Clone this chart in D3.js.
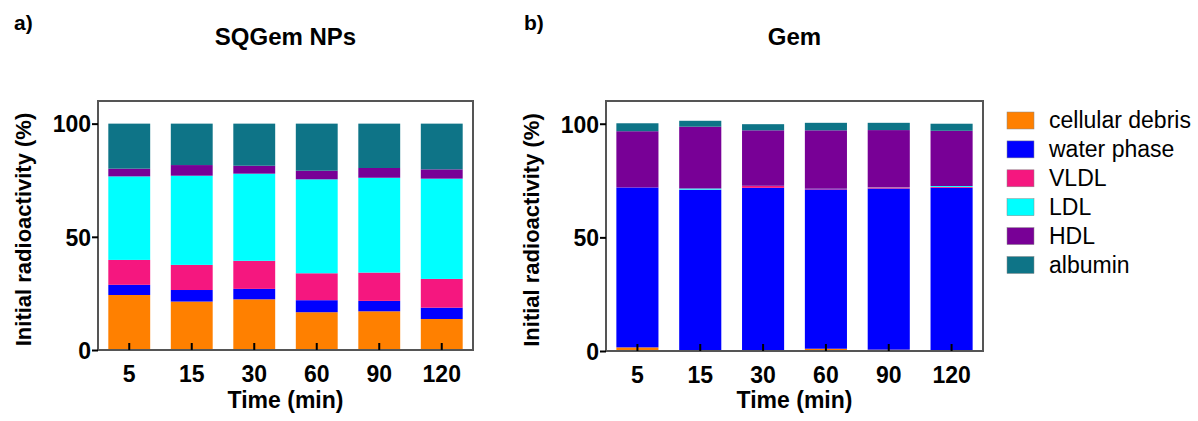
<!DOCTYPE html>
<html>
<head>
<meta charset="utf-8">
<script src="https://cdn.jsdelivr.net/npm/d3@7"></script>
<style>
  body { margin: 0; background: #fff; }
  svg text { font-family: "Liberation Sans", Arial, sans-serif; }
  .axis text { font-size: 23px; font-weight: bold; fill: #000; }
  .axis path { display: none; }
  .legend text { font-size: 23px; }
</style>
</head>
<body>
<div id="chart"></div>
<script>
var times = ["5", "15", "30", "60", "90", "120"];
var fractions = ["cellular debris", "water phase", "VLDL", "LDL", "HDL", "albumin"];
var fractionColors = ["#ff8000", "#0000ff", "#f5177f", "#00ffff", "#780096", "#0e7487"];

// % of initial radioactivity, one array per fraction (same order as times)
var sqgemCellular = [24.3, 21.4, 22.4, 16.7, 17.1, 13.7];
var sqgemWater    = [4.5, 5.1, 4.6, 5.3, 4.6, 5.0];
var sqgemVLDL     = [11.0, 11.1, 12.4, 11.9, 12.5, 12.7];
var sqgemLDL      = [36.9, 39.4, 38.5, 41.5, 41.9, 44.3];
var sqgemHDL      = [3.4, 4.7, 3.5, 3.8, 4.3, 4.1];
var sqgemAlbumin  = [19.9, 18.3, 18.6, 20.8, 19.6, 20.2];

var gemCellular = [1.6, 0.2, 0.1, 1.0, 0.6, 0.3];
var gemWater    = [70.4, 70.7, 71.7, 70.1, 70.9, 71.5];
var gemVLDL     = [0.1, 0.1, 0.8, 0.2, 0.5, 0.4];
var gemLDL      = [0.0, 0.5, 0.1, 0.1, 0.1, 0.4];
var gemHDL      = [24.6, 27.2, 24.4, 25.7, 25.1, 24.3];
var gemAlbumin  = [3.5, 2.6, 2.7, 3.3, 3.2, 3.1];

var yTicks = [0, 50, 100];

var width = 1198, height = 421;

var svg = d3.select("#chart").append("svg")
    .attr("width", width)
    .attr("height", height);

function buildRows(series){
    return times.map(function(t, i){
        var row = {time: t};
        fractions.forEach(function(f, j){ row[f] = series[j][i]; });
        return row;
    });
}

function drawPanel(opts){
    var rows = buildRows(opts.series);
    var stack = d3.stack().keys(fractions)(rows);

    var x = d3.scaleBand()
        .domain(times)
        .range([opts.left, opts.right])
        .paddingInner(0.33)
        .paddingOuter(0.165);

    var y = d3.scaleLinear()
        .domain([0, 110])
        .range([opts.bottom, opts.top]);

    var g = svg.append("g");

    // bars
    g.selectAll(".layer")
        .data(stack)
        .enter().append("g")
        .attr("class", "layer")
        .style("fill", function(d, i){ return fractionColors[i]; })
        .selectAll("rect")
        .data(function(d){ return d; })
        .enter().append("rect")
        .attr("x", function(d){ return x(d.data.time); })
        .attr("width", x.bandwidth())
        .attr("y", function(d){ return y(d[1]); })
        .attr("height", function(d){ return Math.max(0, y(d[0]) - y(d[1])); });

    // frame
    g.append("rect")
        .attr("x", opts.left)
        .attr("y", opts.top)
        .attr("width", opts.right - opts.left)
        .attr("height", opts.bottom - opts.top)
        .style("fill", "none")
        .style("stroke", "#555")
        .style("stroke-width", 2);

    // y axis
    var yAxis = g.append("g")
        .attr("class", "axis")
        .attr("transform", "translate(" + opts.left + ",0)")
        .call(d3.axisLeft(y).tickValues(yTicks).tickSize(6).tickPadding(1));
    yAxis.selectAll("line").style("stroke", "#000").style("stroke-width", 2);
    yAxis.selectAll("text").attr("dy", "0.36em");

    // x axis (ticks point inward)
    var xAxis = g.append("g")
        .attr("class", "axis")
        .attr("transform", "translate(0," + opts.bottom + ")")
        .call(d3.axisBottom(x).tickSize(-7).tickPadding(0));
    xAxis.selectAll("line").style("stroke", "#000").style("stroke-width", 2);
    xAxis.selectAll("text").attr("y", 32).attr("dy", 0);

    // axis titles
    g.append("text")
        .attr("x", (opts.left + opts.right) / 2)
        .attr("y", 408)
        .attr("text-anchor", "middle")
        .style("font-size", "23px")
        .style("font-weight", "bold")
        .text("Time (min)");

    g.append("text")
        .attr("transform", "translate(" + (opts.left - 67) + "," + ((opts.top + opts.bottom) / 2 + 4) + ") rotate(-90)")
        .attr("text-anchor", "middle")
        .style("font-size", "22px")
        .style("font-weight", "bold")
        .text("Initial radioactivity (%)");

    // panel title and letter
    g.append("text")
        .attr("x", (opts.left + opts.right) / 2)
        .attr("y", 45)
        .attr("text-anchor", "middle")
        .style("font-size", "24px")
        .style("font-weight", "bold")
        .text(opts.title);

    g.append("text")
        .attr("x", opts.letterX)
        .attr("y", 30)
        .style("font-size", "21px")
        .style("font-weight", "bold")
        .text(opts.letter);
}

drawPanel({
    series: [sqgemCellular, sqgemWater, sqgemVLDL, sqgemLDL, sqgemHDL, sqgemAlbumin],
    left: 98, right: 473, top: 101, bottom: 350,
    title: "SQGem NPs", letter: "a)", letterX: 14
});

drawPanel({
    series: [gemCellular, gemWater, gemVLDL, gemLDL, gemHDL, gemAlbumin],
    left: 606, right: 983, top: 101, bottom: 351,
    title: "Gem", letter: "b)", letterX: 524
});

// legend
var legend = svg.append("g").attr("class", "legend");
var legendItems = legend.selectAll("g")
    .data(fractions)
    .enter().append("g")
    .attr("transform", function(d, i){ return "translate(1007," + (112 + i * 28.9) + ")"; });

legendItems.append("rect")
    .attr("width", 27)
    .attr("height", 17)
    .style("fill", function(d, i){ return fractionColors[i]; })
    .style("stroke", "#888")
    .style("stroke-width", 0.5);

legendItems.append("text")
    .attr("x", 42)
    .attr("y", 16)
    .text(function(d){ return d; });
</script>
</body>
</html>
